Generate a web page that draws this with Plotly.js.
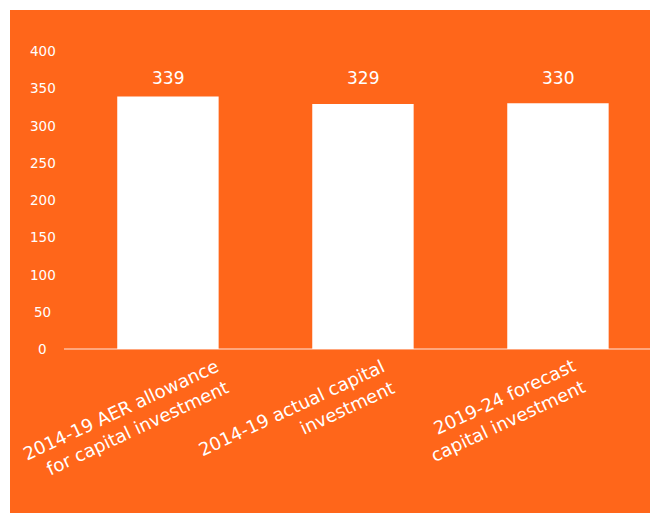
<!DOCTYPE html>
<html>
<head>
<meta charset="utf-8">
<script src="https://cdn.plot.ly/plotly-3.0.1.min.js"></script>
<style>
  html, body { margin: 0; padding: 0; background: #ffffff; }
  #chart { position: absolute; left: 10px; top: 10px; width: 640px; height: 503px; }
</style>
</head>
<body>
<div id="chart"></div>
<script>
// ---- data ----
const categories = ["aer", "actual", "forecast"];
const categoryLabels = [
  "2014-19 AER allowance<br>for capital investment",
  "2014-19 actual capital<br>investment",
  "2019-24 forecast<br>capital investment"
];
const values = [339, 329, 330];
const valueLabels = ["339", "329", "330"];
const yTickValues = [0, 50, 100, 150, 200, 250, 300, 350, 400];
const yTickLabels = ["0", "50", "100", "150", "200", "250", "300", "350", "400"];

// ---- style ----
const ORANGE = "#FF661A";
const FONT = "DejaVu Sans, sans-serif";
const labelShiftX = [-42, -66, -55];
const labelShiftY = [-71, -69, -61];
const valueLabelLevel = Math.max(...values); // all value labels share one row

const annotations = [];
// y tick labels (centred)
yTickValues.forEach((v, i) => {
  annotations.push({
    xref: "paper", yref: "y", x: 0, y: v, xshift: -21.5,
    xanchor: "center", yanchor: "middle", showarrow: false,
    text: yTickLabels[i], font: { family: FONT, size: 13.5, color: "#ffffff" }
  });
});
// value labels above bars
categories.forEach((c, i) => {
  annotations.push({
    xref: "x", yref: "y", x: c, y: valueLabelLevel, yshift: 6,
    xanchor: "center", yanchor: "bottom", showarrow: false,
    text: valueLabels[i], font: { family: FONT, size: 17, color: "#ffffff" }
  });
});
// rotated category labels
categories.forEach((c, i) => {
  annotations.push({
    xref: "x", yref: "y", x: c, y: 0,
    xshift: labelShiftX[i], yshift: labelShiftY[i],
    xanchor: "center", yanchor: "middle", showarrow: false,
    textangle: -25, align: "right",
    text: categoryLabels[i], font: { family: FONT, size: 18, color: "#ffffff" }
  });
});

const trace = {
  type: "bar",
  x: categories,
  y: values,
  width: 0.52,
  marker: { color: "#ffffff", line: { width: 0 } },
  hoverinfo: "none"
};

const layout = {
  width: 640, height: 503,
  margin: { l: 54, r: 0, t: 41, b: 164, pad: 0 },
  paper_bgcolor: ORANGE, plot_bgcolor: ORANGE,
  showlegend: false,
  font: { family: FONT, color: "#ffffff" },
  xaxis: {
    type: "category", range: [-0.533, 2.472],
    showticklabels: false, showgrid: false, zeroline: false, showline: false, ticks: ""
  },
  yaxis: {
    range: [0, 400], showticklabels: false, showgrid: false, ticks: "",
    showline: false, zeroline: true, zerolinecolor: "#FFA67C", zerolinewidth: 1.5
  },
  annotations: annotations
};

Plotly.newPlot("chart", [trace], layout, { staticPlot: true, displayModeBar: false });
</script>
</body>
</html>
